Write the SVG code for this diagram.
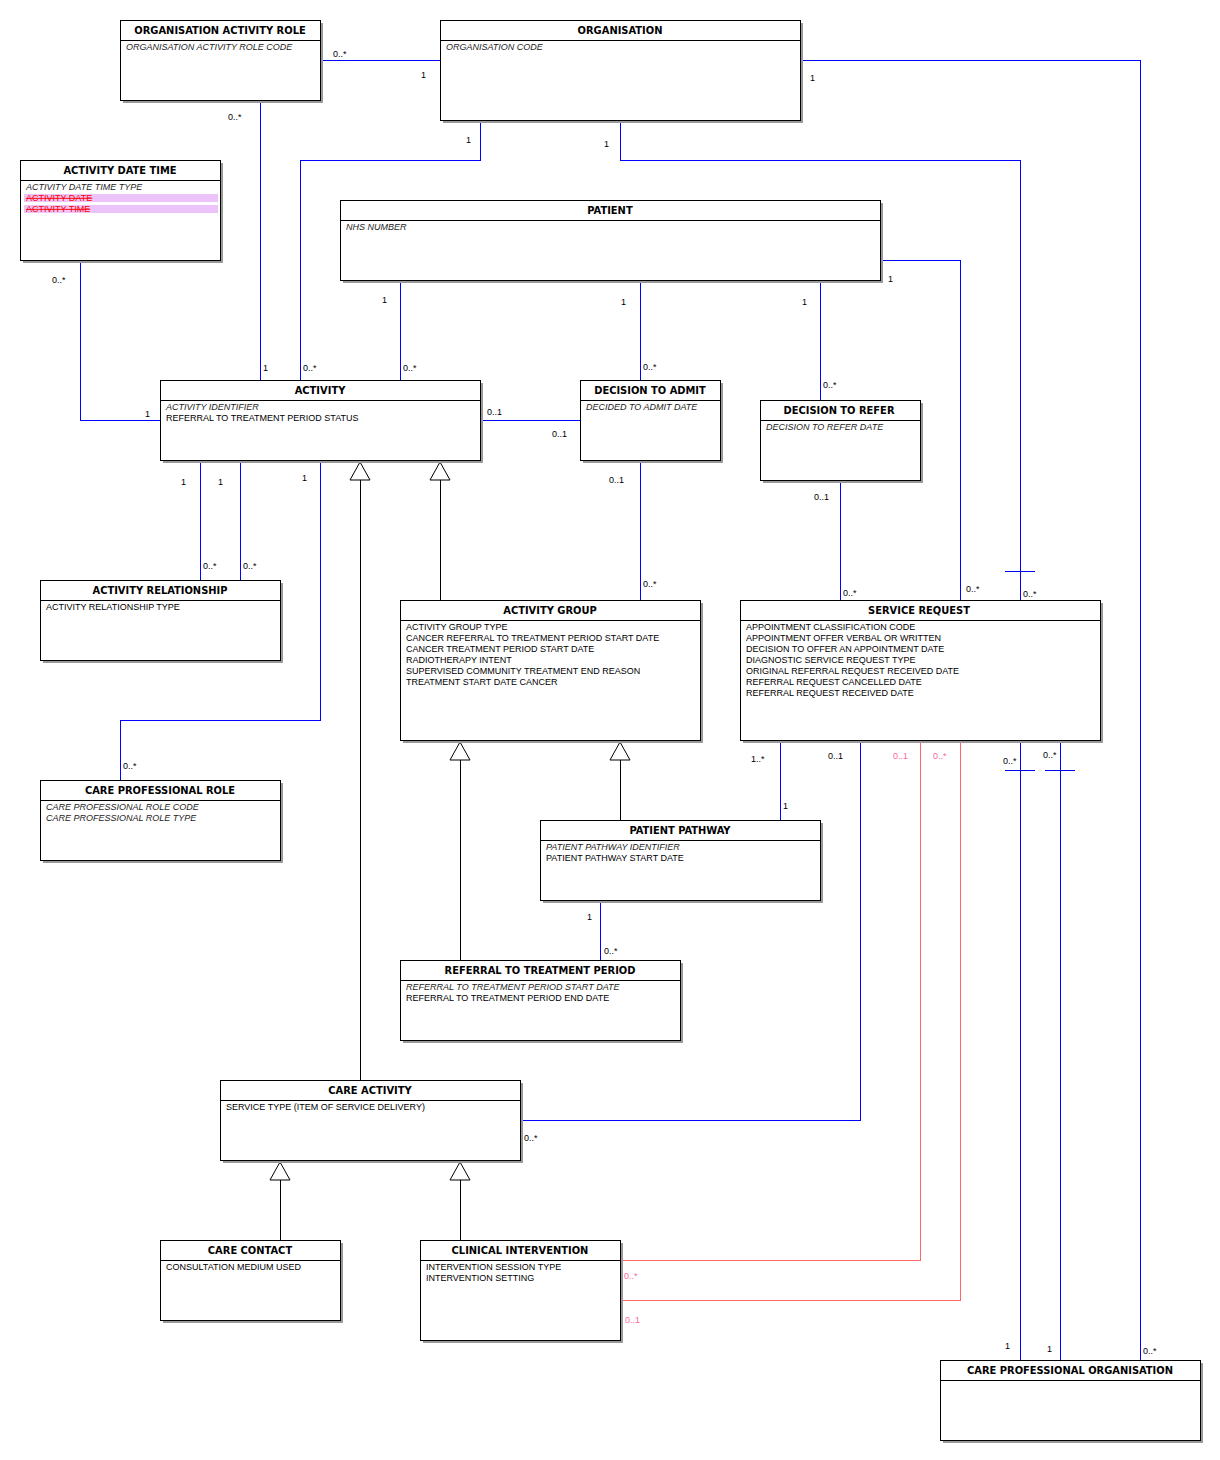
<svg xmlns="http://www.w3.org/2000/svg" width="1220" height="1460" viewBox="0 0 1220 1460">
<style>
.sh{fill:#9a9a9a;shape-rendering:crispEdges}
.bx{fill:#fff;stroke:#000;stroke-width:1;shape-rendering:crispEdges}
.hl{stroke:#000;stroke-width:1;shape-rendering:crispEdges}
.t{font-family:"DejaVu Sans Condensed","Liberation Sans",sans-serif;font-size:11px;font-weight:bold;text-anchor:middle;fill:#000}
.a{font-family:"Liberation Sans",sans-serif;font-size:9px;fill:#000}
.k{font-style:italic;fill:#222}
.del{fill:#ff0000;text-decoration:line-through}
.c{fill:none;stroke:#0000ff;stroke-width:1;shape-rendering:crispEdges}
.r{fill:none;stroke:#ff6666;stroke-width:1;shape-rendering:crispEdges}
.g{fill:none;stroke:#000;stroke-width:1;shape-rendering:crispEdges}
.tri{fill:#fff;stroke:#000;stroke-width:1}
.m{font-family:"Liberation Sans",sans-serif;font-size:9px;fill:#000}
.p{font-family:"Liberation Sans",sans-serif;font-size:9px;fill:#ff6699}
</style>
<rect width="1220" height="1460" fill="#fff"/>

<g id="connectors">
  <polyline class="c" points="320,60 440,60"/>
  <polyline class="c" points="800,60 1140,60 1140,1360"/>
  <polyline class="c" points="480,120 480,160 300,160 300,380"/>
  <polyline class="c" points="620,120 620,160 1020,160 1020,600"/>
  <line class="c" x1="1005" y1="571" x2="1035" y2="571"/>
  <polyline class="c" points="260,100 260,380"/>
  <polyline class="c" points="80,260 80,420 160,420"/>
  <polyline class="c" points="400,280 400,380"/>
  <polyline class="c" points="640,280 640,380"/>
  <polyline class="c" points="820,280 820,400"/>
  <polyline class="c" points="880,260 960,260 960,600"/>
  <polyline class="c" points="480,420 580,420"/>
  <polyline class="c" points="200,460 200,580"/>
  <polyline class="c" points="240,460 240,580"/>
  <polyline class="c" points="320,460 320,720 120,720 120,780"/>
  <polyline class="c" points="640,460 640,600"/>
  <polyline class="c" points="840,480 840,600"/>
  <polyline class="c" points="780,740 780,820"/>
  <polyline class="c" points="860,740 860,1120 520,1120"/>
  <polyline class="r" points="920,740 920,1260 620,1260"/>
  <polyline class="r" points="960,740 960,1300 620,1300"/>
  <polyline class="c" points="1020,740 1020,1360"/>
  <line class="c" x1="1005" y1="770" x2="1035" y2="770"/>
  <polyline class="c" points="1060,740 1060,1360"/>
  <line class="c" x1="1045" y1="770" x2="1075" y2="770"/>
  <polyline class="c" points="600,900 600,960"/>

  <line class="g" x1="440" y1="600" x2="440" y2="480"/>
  <polygon class="tri" points="440,462 430,480 450,480"/>
  <line class="g" x1="360" y1="1080" x2="360" y2="480"/>
  <polygon class="tri" points="360,462 350,480 370,480"/>
  <line class="g" x1="460" y1="960" x2="460" y2="760"/>
  <polygon class="tri" points="460,742 450,760 470,760"/>
  <line class="g" x1="620" y1="820" x2="620" y2="760"/>
  <polygon class="tri" points="620,742 610,760 630,760"/>
  <line class="g" x1="280" y1="1240" x2="280" y2="1180"/>
  <polygon class="tri" points="280,1162 270,1180 290,1180"/>
  <line class="g" x1="460" y1="1240" x2="460" y2="1180"/>
  <polygon class="tri" points="460,1162 450,1180 470,1180"/>

  <text class="m" x="333" y="57">0..*</text>
  <text class="m" x="421" y="78">1</text>
  <text class="m" x="810" y="81">1</text>
  <text class="m" x="1143" y="1354">0..*</text>
  <text class="m" x="466" y="143">1</text>
  <text class="m" x="303" y="371">0..*</text>
  <text class="m" x="604" y="147">1</text>
  <text class="m" x="1023" y="597">0..*</text>
  <text class="m" x="228" y="120">0..*</text>
  <text class="m" x="263" y="371">1</text>
  <text class="m" x="52" y="283">0..*</text>
  <text class="m" x="145" y="417">1</text>
  <text class="m" x="382" y="303">1</text>
  <text class="m" x="403" y="371">0..*</text>
  <text class="m" x="621" y="305">1</text>
  <text class="m" x="643" y="370">0..*</text>
  <text class="m" x="802" y="305">1</text>
  <text class="m" x="823" y="388">0..*</text>
  <text class="m" x="888" y="282">1</text>
  <text class="m" x="966" y="592">0..*</text>
  <text class="m" x="487" y="415">0..1</text>
  <text class="m" x="552" y="437">0..1</text>
  <text class="m" x="181" y="485">1</text>
  <text class="m" x="218" y="485">1</text>
  <text class="m" x="203" y="569">0..*</text>
  <text class="m" x="243" y="569">0..*</text>
  <text class="m" x="302" y="481">1</text>
  <text class="m" x="123" y="769">0..*</text>
  <text class="m" x="609" y="483">0..1</text>
  <text class="m" x="643" y="587">0..*</text>
  <text class="m" x="814" y="500">0..1</text>
  <text class="m" x="843" y="596">0..*</text>
  <text class="m" x="751" y="762">1..*</text>
  <text class="m" x="783" y="809">1</text>
  <text class="m" x="828" y="759">0..1</text>
  <text class="m" x="524" y="1141">0..*</text>
  <text class="p" x="893" y="759">0..1</text>
  <text class="p" x="624" y="1279">0..*</text>
  <text class="p" x="933" y="759">0..*</text>
  <text class="p" x="625" y="1323">0..1</text>
  <text class="m" x="1003" y="764">0..*</text>
  <text class="m" x="1005" y="1349">1</text>
  <text class="m" x="1043" y="758">0..*</text>
  <text class="m" x="1047" y="1352">1</text>
  <text class="m" x="587" y="920">1</text>
  <text class="m" x="604" y="954">0..*</text>
</g>

<g id="organisation-activity-role">
  <rect class="sh" x="123" y="23" width="200" height="80"/>
  <rect class="bx" x="120" y="20" width="200" height="80"/>
  <line class="hl" x1="120" y1="40" x2="320" y2="40"/>
  <text class="t" x="220" y="34">ORGANISATION ACTIVITY ROLE</text>
  <text class="a k" x="126" y="50">ORGANISATION ACTIVITY ROLE CODE</text>
</g>

<g id="organisation">
  <rect class="sh" x="443" y="23" width="360" height="100"/>
  <rect class="bx" x="440" y="20" width="360" height="100"/>
  <line class="hl" x1="440" y1="40" x2="800" y2="40"/>
  <text class="t" x="620" y="34">ORGANISATION</text>
  <text class="a k" x="446" y="50">ORGANISATION CODE</text>
</g>

<g id="activity-date-time">
  <rect class="sh" x="23" y="163" width="200" height="100"/>
  <rect class="bx" x="20" y="160" width="200" height="100"/>
  <line class="hl" x1="20" y1="180" x2="220" y2="180"/>
  <text class="t" x="120" y="174">ACTIVITY DATE TIME</text>
  <text class="a k" x="26" y="190">ACTIVITY DATE TIME TYPE</text>
  <rect x="24" y="194" width="194" height="8" fill="#ecc4fa"/>
  <rect x="24" y="205" width="194" height="8" fill="#ecc4fa"/>
  <text class="a del" x="26" y="201">ACTIVITY DATE</text>
  <text class="a del" x="26" y="212">ACTIVITY TIME</text>
</g>

<g id="patient">
  <rect class="sh" x="343" y="203" width="540" height="80"/>
  <rect class="bx" x="340" y="200" width="540" height="80"/>
  <line class="hl" x1="340" y1="220" x2="880" y2="220"/>
  <text class="t" x="610" y="214">PATIENT</text>
  <text class="a k" x="346" y="230">NHS NUMBER</text>
</g>

<g id="activity">
  <rect class="sh" x="163" y="383" width="320" height="80"/>
  <rect class="bx" x="160" y="380" width="320" height="80"/>
  <line class="hl" x1="160" y1="400" x2="480" y2="400"/>
  <text class="t" x="320" y="394">ACTIVITY</text>
  <text class="a k" x="166" y="410">ACTIVITY IDENTIFIER</text>
  <text class="a" x="166" y="421">REFERRAL TO TREATMENT PERIOD STATUS</text>
</g>

<g id="decision-to-admit">
  <rect class="sh" x="583" y="383" width="140" height="80"/>
  <rect class="bx" x="580" y="380" width="140" height="80"/>
  <line class="hl" x1="580" y1="400" x2="720" y2="400"/>
  <text class="t" x="650" y="394">DECISION TO ADMIT</text>
  <text class="a k" x="586" y="410">DECIDED TO ADMIT DATE</text>
</g>

<g id="decision-to-refer">
  <rect class="sh" x="763" y="403" width="160" height="80"/>
  <rect class="bx" x="760" y="400" width="160" height="80"/>
  <line class="hl" x1="760" y1="420" x2="920" y2="420"/>
  <text class="t" x="839" y="414">DECISION TO REFER</text>
  <text class="a k" x="766" y="430">DECISION TO REFER DATE</text>
</g>

<g id="activity-relationship">
  <rect class="sh" x="43" y="583" width="240" height="80"/>
  <rect class="bx" x="40" y="580" width="240" height="80"/>
  <line class="hl" x1="40" y1="600" x2="280" y2="600"/>
  <text class="t" x="160" y="594">ACTIVITY RELATIONSHIP</text>
  <text class="a" x="46" y="610">ACTIVITY RELATIONSHIP TYPE</text>
</g>

<g id="activity-group">
  <rect class="sh" x="403" y="603" width="300" height="140"/>
  <rect class="bx" x="400" y="600" width="300" height="140"/>
  <line class="hl" x1="400" y1="620" x2="700" y2="620"/>
  <text class="t" x="550" y="614">ACTIVITY GROUP</text>
  <text class="a" x="406" y="630">ACTIVITY GROUP TYPE</text>
  <text class="a" x="406" y="641">CANCER REFERRAL TO TREATMENT PERIOD START DATE</text>
  <text class="a" x="406" y="652">CANCER TREATMENT PERIOD START DATE</text>
  <text class="a" x="406" y="663">RADIOTHERAPY INTENT</text>
  <text class="a" x="406" y="674">SUPERVISED COMMUNITY TREATMENT END REASON</text>
  <text class="a" x="406" y="685">TREATMENT START DATE CANCER</text>
</g>

<g id="service-request">
  <rect class="sh" x="743" y="603" width="360" height="140"/>
  <rect class="bx" x="740" y="600" width="360" height="140"/>
  <line class="hl" x1="740" y1="620" x2="1100" y2="620"/>
  <text class="t" x="919" y="614">SERVICE REQUEST</text>
  <text class="a" x="746" y="630">APPOINTMENT CLASSIFICATION CODE</text>
  <text class="a" x="746" y="641">APPOINTMENT OFFER VERBAL OR WRITTEN</text>
  <text class="a" x="746" y="652">DECISION TO OFFER AN APPOINTMENT DATE</text>
  <text class="a" x="746" y="663">DIAGNOSTIC SERVICE REQUEST TYPE</text>
  <text class="a" x="746" y="674">ORIGINAL REFERRAL REQUEST RECEIVED DATE</text>
  <text class="a" x="746" y="685">REFERRAL REQUEST CANCELLED DATE</text>
  <text class="a" x="746" y="696">REFERRAL REQUEST RECEIVED DATE</text>
</g>

<g id="care-professional-role">
  <rect class="sh" x="43" y="783" width="240" height="80"/>
  <rect class="bx" x="40" y="780" width="240" height="80"/>
  <line class="hl" x1="40" y1="800" x2="280" y2="800"/>
  <text class="t" x="160" y="794">CARE PROFESSIONAL ROLE</text>
  <text class="a k" x="46" y="810">CARE PROFESSIONAL ROLE CODE</text>
  <text class="a k" x="46" y="821">CARE PROFESSIONAL ROLE TYPE</text>
</g>

<g id="patient-pathway">
  <rect class="sh" x="543" y="823" width="280" height="80"/>
  <rect class="bx" x="540" y="820" width="280" height="80"/>
  <line class="hl" x1="540" y1="840" x2="820" y2="840"/>
  <text class="t" x="680" y="834">PATIENT PATHWAY</text>
  <text class="a k" x="546" y="850">PATIENT PATHWAY IDENTIFIER</text>
  <text class="a" x="546" y="861">PATIENT PATHWAY START DATE</text>
</g>

<g id="referral-to-treatment-period">
  <rect class="sh" x="403" y="963" width="280" height="80"/>
  <rect class="bx" x="400" y="960" width="280" height="80"/>
  <line class="hl" x1="400" y1="980" x2="680" y2="980"/>
  <text class="t" x="540" y="974">REFERRAL TO TREATMENT PERIOD</text>
  <text class="a k" x="406" y="990">REFERRAL TO TREATMENT PERIOD START DATE</text>
  <text class="a" x="406" y="1001">REFERRAL TO TREATMENT PERIOD END DATE</text>
</g>

<g id="care-activity">
  <rect class="sh" x="223" y="1083" width="300" height="80"/>
  <rect class="bx" x="220" y="1080" width="300" height="80"/>
  <line class="hl" x1="220" y1="1100" x2="520" y2="1100"/>
  <text class="t" x="370" y="1094">CARE ACTIVITY</text>
  <text class="a" x="226" y="1110">SERVICE TYPE (ITEM OF SERVICE DELIVERY)</text>
</g>

<g id="care-contact">
  <rect class="sh" x="163" y="1243" width="180" height="80"/>
  <rect class="bx" x="160" y="1240" width="180" height="80"/>
  <line class="hl" x1="160" y1="1260" x2="340" y2="1260"/>
  <text class="t" x="250" y="1254">CARE CONTACT</text>
  <text class="a" x="166" y="1270">CONSULTATION MEDIUM USED</text>
</g>

<g id="clinical-intervention">
  <rect class="sh" x="423" y="1243" width="200" height="100"/>
  <rect class="bx" x="420" y="1240" width="200" height="100"/>
  <line class="hl" x1="420" y1="1260" x2="620" y2="1260"/>
  <text class="t" x="520" y="1254">CLINICAL INTERVENTION</text>
  <text class="a" x="426" y="1270">INTERVENTION SESSION TYPE</text>
  <text class="a" x="426" y="1281">INTERVENTION SETTING</text>
</g>

<g id="care-professional-organisation">
  <rect class="sh" x="943" y="1363" width="260" height="80"/>
  <rect class="bx" x="940" y="1360" width="260" height="80"/>
  <line class="hl" x1="940" y1="1380" x2="1200" y2="1380"/>
  <text class="t" x="1070" y="1374">CARE PROFESSIONAL ORGANISATION</text>
</g>
</svg>
